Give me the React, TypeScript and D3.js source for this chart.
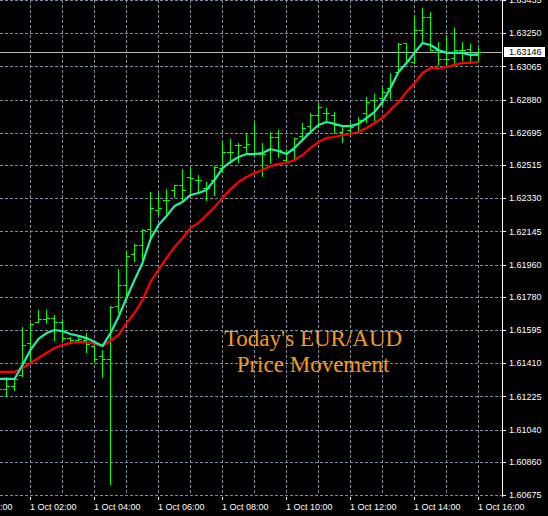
import React from 'react';
import * as d3 from 'd3';

const START = new Date(2012, 9, 1, 1, 0);
const END = new Date(2012, 9, 1, 16, 0);
const AXIS_START = new Date(2012, 9, 1, 0, 0);

const open = [1.61288,1.61266,1.61283,1.61344,1.61523,1.61640,1.61656,1.61662,1.61640,1.61550,1.61539,1.61539,1.61506,1.61450,1.61433,1.61729,1.61846,1.62019,1.62069,1.62158,1.62264,1.62320,1.62376,1.62403,1.62448,1.62431,1.62387,1.62431,1.62498,1.62587,1.62627,1.62615,1.62582,1.62576,1.62599,1.62671,1.62543,1.62599,1.62677,1.62732,1.62794,1.62805,1.62794,1.62699,1.62710,1.62744,1.62805,1.62877,1.62889,1.62944,1.63034,1.63195,1.63089,1.63268,1.63340,1.63156,1.63106,1.63112,1.63156,1.63162,1.63128];
const high = [1.61316,1.61333,1.61333,1.61612,1.61634,1.61707,1.61707,1.61679,1.61656,1.61556,1.61556,1.61578,1.61511,1.61484,1.61729,1.61935,1.62030,1.62074,1.62158,1.62364,1.62359,1.62381,1.62403,1.62493,1.62498,1.62459,1.62420,1.62509,1.62643,1.62660,1.62638,1.62693,1.62760,1.62638,1.62699,1.62710,1.62604,1.62666,1.62749,1.62805,1.62861,1.62833,1.62811,1.62727,1.62749,1.62783,1.62894,1.62911,1.62950,1.63028,1.63195,1.63195,1.63351,1.63390,1.63368,1.63201,1.63234,1.63279,1.63201,1.63190,1.63167];
const low = [1.61249,1.61227,1.61260,1.61339,1.61417,1.61640,1.61634,1.61539,1.61539,1.61523,1.61528,1.61472,1.61417,1.61333,1.60736,1.61695,1.61762,1.61980,1.61985,1.62113,1.62236,1.62247,1.62337,1.62309,1.62348,1.62364,1.62320,1.62348,1.62476,1.62526,1.62532,1.62587,1.62576,1.62454,1.62526,1.62560,1.62526,1.62543,1.62654,1.62710,1.62732,1.62755,1.62693,1.62643,1.62693,1.62710,1.62755,1.62766,1.62850,1.62889,1.63034,1.63084,1.63084,1.63201,1.63156,1.63073,1.63073,1.63084,1.63100,1.63084,1.63089];
const close = [1.61266,1.61283,1.61322,1.61511,1.61628,1.61656,1.61662,1.61640,1.61550,1.61539,1.61545,1.61517,1.61433,1.61433,1.61723,1.61846,1.62008,1.62069,1.62153,1.62275,1.62275,1.62320,1.62403,1.62376,1.62443,1.62431,1.62387,1.62504,1.62587,1.62587,1.62627,1.62632,1.62582,1.62576,1.62671,1.62599,1.62532,1.62666,1.62721,1.62794,1.62838,1.62805,1.62738,1.62688,1.62727,1.62766,1.62866,1.62877,1.62922,1.62978,1.63190,1.63095,1.63268,1.63340,1.63156,1.63106,1.63106,1.63156,1.63156,1.63128,1.63146];
const fastMA = [1.61322,1.61322,1.61322,1.61400,1.61484,1.61545,1.61578,1.61595,1.61589,1.61573,1.61562,1.61550,1.61528,1.61506,1.61578,1.61668,1.61773,1.61874,1.61969,1.62102,1.62180,1.62231,1.62286,1.62309,1.62348,1.62359,1.62376,1.62431,1.62498,1.62532,1.62560,1.62576,1.62576,1.62582,1.62604,1.62593,1.62576,1.62610,1.62654,1.62699,1.62738,1.62755,1.62744,1.62732,1.62732,1.62744,1.62777,1.62811,1.62866,1.62944,1.63034,1.63084,1.63140,1.63195,1.63184,1.63156,1.63140,1.63140,1.63140,1.63128,1.63134];
const slowMA = [1.61361,1.61361,1.61361,1.61383,1.61411,1.61439,1.61467,1.61495,1.61511,1.61523,1.61528,1.61528,1.61517,1.61506,1.61534,1.61567,1.61634,1.61690,1.61762,1.61863,1.61930,1.61996,1.62058,1.62108,1.62164,1.62192,1.62236,1.62281,1.62331,1.62381,1.62420,1.62448,1.62470,1.62487,1.62509,1.62521,1.62526,1.62543,1.62571,1.62610,1.62643,1.62666,1.62671,1.62682,1.62688,1.62699,1.62721,1.62749,1.62777,1.62822,1.62866,1.62922,1.62972,1.63028,1.63056,1.63056,1.63061,1.63073,1.63084,1.63084,1.63089];

const priceTicks = ['1.60675','1.60860','1.61040','1.61225','1.61410','1.61595','1.61780','1.61960','1.62145','1.62330','1.62515','1.62695','1.62880','1.63065','1.63250','1.63435'];
const currentPrice = '1.63146';
const titleLines = ["Today's EUR/AUD", 'Price Movement'];

const W = 548;
const H = 516;
const PLOT_R = 502;
const PLOT_B = 495;

const BAR = '#00FF00';
const FAST = '#22F0A4';
const SLOW = '#FF0000';
const GRID = '#7F8C9E';
const TEXT = '#FFFFFF';
const FONT = '"Liberation Sans", Arial, sans-serif';

export default function App() {
  const times = d3.timeMinute.every(15)!.range(START, new Date(+END + 1));
  const x = d3.scaleTime().domain([START, END]).range([-2, 478]);
  const y = d3.scaleLinear().domain([1.60675, 1.63435]).range([PLOT_B, 0]);

  const hours = d3.timeHour.range(AXIS_START, new Date(+END + 1));
  const labelHours = d3.timeHour.every(2)!.range(AXIS_START, new Date(+END + 1));
  const fmt = d3.timeFormat('%-d %b %H:%M');

  const px = (t: Date) => Math.round(x(t)) + 0.5;
  const py = (v: number) => Math.round(y(v)) + 0.5;

  const lineGen = (vals: number[]) =>
    d3.line<number>().x((_, i) => px(times[i])).y((v) => y(v))(vals) || '';

  return (
    <svg width={W} height={H} style={{ position: 'absolute', left: 0, top: 0, display: 'block', background: '#000' }}>
      <rect x={0} y={0} width={W} height={H} fill="#000" />
      <defs>
        <clipPath id="plot">
          <rect x={0} y={0} width={PLOT_R} height={PLOT_B + 1} />
        </clipPath>
      </defs>
      <g clipPath="url(#plot)">
        {priceTicks.map((t) => (
          <line key={'h' + t} x1={0} x2={PLOT_R} y1={py(+t)} y2={py(+t)} stroke={GRID} strokeDasharray="3,2" strokeWidth={1} />
        ))}
        {hours.map((h) => (
          <line key={'v' + +h} x1={px(h)} x2={px(h)} y1={0} y2={PLOT_B} stroke={GRID} strokeDasharray="3,2" strokeWidth={1} />
        ))}
        <line x1={0} x2={PLOT_R} y1={py(+currentPrice)} y2={py(+currentPrice)} stroke="#B8B8B8" strokeWidth={1} />
        {times.map((t, i) => {
          const cx = px(t);
          return (
            <g key={'b' + i} stroke={BAR} strokeWidth={1}>
              <line x1={cx} x2={cx} y1={Math.round(y(high[i]))} y2={Math.round(y(low[i])) + 1} />
              <line x1={cx - 3.5} x2={cx} y1={py(open[i])} y2={py(open[i])} />
              <line x1={cx} x2={cx + 3.5} y1={py(close[i])} y2={py(close[i])} />
            </g>
          );
        })}
        <path d={lineGen(slowMA)} fill="none" stroke={SLOW} strokeWidth={2.2} strokeLinejoin="round" />
        <path d={lineGen(fastMA)} fill="none" stroke={FAST} strokeWidth={2.2} strokeLinejoin="round" />
      </g>
      <line x1={PLOT_R + 0.5} x2={PLOT_R + 0.5} y1={0} y2={PLOT_B + 2} stroke="#FFFFFF" strokeWidth={1} />
      {priceTicks.map((t) => (
        <g key={'pl' + t}>
          <line x1={PLOT_R} x2={PLOT_R + 4} y1={py(+t)} y2={py(+t)} stroke="#FFFFFF" strokeWidth={1} />
          <text x={509} y={y(+t) + 3.3} fill={TEXT} fontFamily={FONT} fontSize={9}>{t}</text>
        </g>
      ))}
      <rect x={504} y={Math.round(y(+currentPrice)) - 5} width={41} height={10} fill="#FFFFFF" />
      <text x={509} y={y(+currentPrice) + 3.3} fill="#000" fontFamily={FONT} fontSize={9}>{currentPrice}</text>
      {labelHours.map((h) => (
        <g key={'tl' + +h}>
          <line x1={px(h)} x2={px(h)} y1={PLOT_B + 2} y2={PLOT_B + 5} stroke="#FFFFFF" strokeWidth={1} />
          <text x={x(h)} y={509.5} fill={TEXT} fontFamily={FONT} fontSize={9}>{fmt(h)}</text>
        </g>
      ))}
      {titleLines.map((s, i) => (
        <text key={'t' + i} x={313} y={346 + i * 26} textAnchor="middle" fill="#F39A1E" fontFamily='"Liberation Serif", "Times New Roman", serif' fontSize={23}>{s}</text>
      ))}
    </svg>
  );
}
